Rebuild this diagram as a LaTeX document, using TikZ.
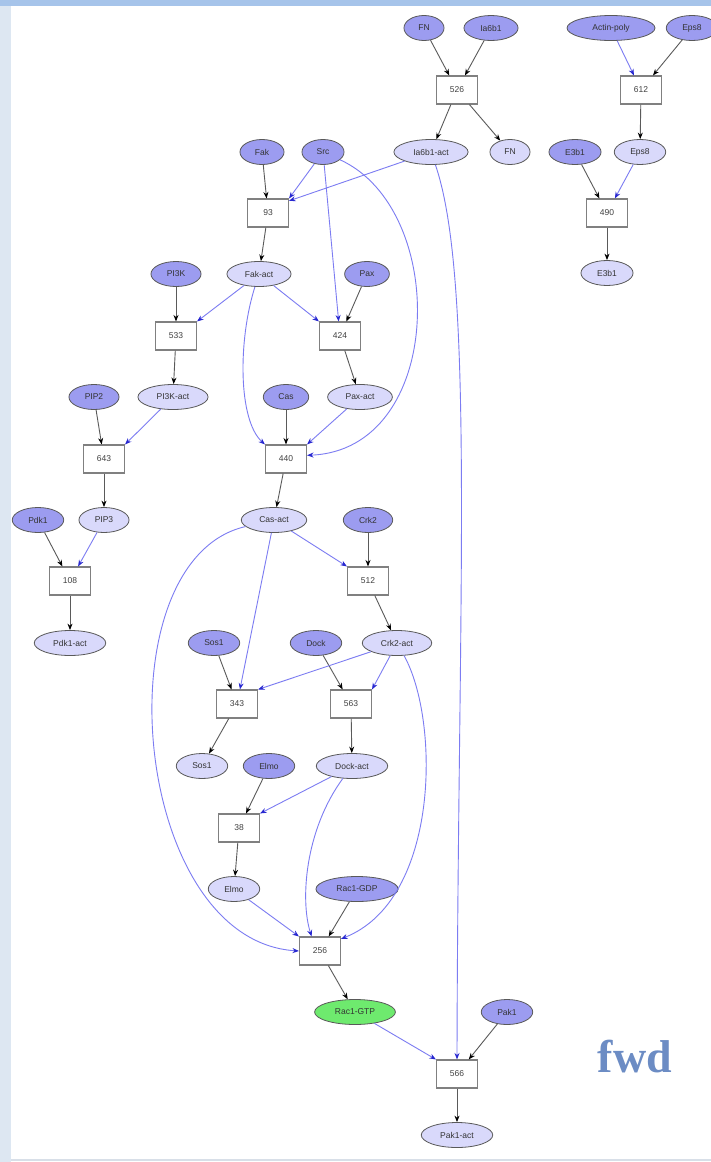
\documentclass[tikz,border=0pt]{standalone}
\usepackage{fontspec}
\setmainfont{Liberation Sans}
\newfontfamily\fwdfont{Liberation Serif}
\usetikzlibrary{shapes.geometric,arrows.meta}

\definecolor{reactantcol}{HTML}{9C9CF0}
\definecolor{productcol}{HTML}{D9D9FB}
\definecolor{gtpcol}{HTML}{6EEA6E}
\definecolor{edgegray}{HTML}{5A5A5A}
\definecolor{modline}{HTML}{7C7CF2}
\definecolor{modtip}{HTML}{2828D0}
\definecolor{fwdcol}{HTML}{6C8CC4}
\definecolor{topband}{HTML}{A6C4EA}
\definecolor{sidestrip}{HTML}{DDE7F2}
\definecolor{bottomline}{HTML}{D8DFE8}

\begin{document}
\begin{tikzpicture}[x=1pt, y=-1pt, font=\fontsize{8.5}{10}\selectfont,
    base/.style={ellipse, draw=black!65, line width=0.8pt, text=black!80,
        inner xsep=8.5pt, inner ysep=1pt, minimum height=25pt, minimum width=40pt},
    reactant/.style={base, fill=reactantcol},
    product/.style={base, fill=productcol},
    reaction/.style={rectangle, draw=black!50, line width=1.1pt, fill=white,
        minimum width=41pt, minimum height=28pt, text=black!75},
    consume/.style={draw=edgegray, line width=0.9pt, -{Stealth[length=6.5pt,width=5pt,black]}},
    modify/.style={draw=modline, line width=0.9pt, -{Stealth[length=6.5pt,width=5pt,modtip]}}]

    % Page background with the slide border
    \useasboundingbox (0,0) rectangle (711,1162);
    \fill[white] (0,0) rectangle (711,1162);
    \fill[sidestrip] (0,0) rectangle (11,1162);
    \fill[topband] (0,0) rectangle (711,6);
    \draw[bottomline, line width=1.5pt] (11,1160) -- (711,1160);

    % Integrin and Eps8 reactions
    \node[reactant] (fn) at (424,28) {FN};
    \node[reactant] (ia6b1) at (491,28) {Ia6b1};
    \node[reaction] (r526) at (457,90) {526};
    \node[product] (ia6b1act) at (431,152) {Ia6b1-act};
    \node[product] (fnout) at (510,152) {FN};
    \node[reactant, minimum width=88pt] (actinpoly) at (611,28) {Actin-poly};
    \node[reactant] (eps8) at (692,28) {Eps8};
    \node[reaction] (r612) at (641,90) {612};
    \node[reactant] (e3b1) at (575,152) {E3b1};
    \node[product] (eps8act) at (640,152) {Eps8};
    \node[reaction] (r490) at (607,213) {490};
    \node[product] (e3b1out) at (607,273) {E3b1};

    % Fak, Src and the PI3K branch
    \node[reactant] (fak) at (262,152) {Fak};
    \node[reactant] (src) at (323,152) {Src};
    \node[reaction] (r93) at (268,213) {93};
    \node[product] (fakact) at (259,274) {Fak-act};
    \node[reactant] (pi3k) at (176,274) {PI3K};
    \node[reactant] (pax) at (367,274) {Pax};
    \node[reaction] (r533) at (176,336) {533};
    \node[reaction] (r424) at (340,336) {424};
    \node[product] (pi3kact) at (173,397) {PI3K-act};
    \node[product] (paxact) at (360,397) {Pax-act};
    \node[reactant] (pip2) at (94,397) {PIP2};
    \node[reactant] (cas) at (286,397) {Cas};
    \node[reaction] (r643) at (104,459) {643};
    \node[reaction] (r440) at (286,459) {440};
    \node[reactant] (pdk1) at (38,520) {Pdk1};
    \node[product] (pip3) at (104,520) {PIP3};
    \node[product] (casact) at (274,520) {Cas-act};
    \node[reactant] (crk2) at (368,520) {Crk2};
    \node[reaction] (r108) at (70,581) {108};
    \node[reaction] (r512) at (368,581) {512};
    \node[product] (pdk1act) at (70,643) {Pdk1-act};

    % Crk2, Dock, Elmo down to Rac1 and Pak1
    \node[reactant] (sos1) at (214,643) {Sos1};
    \node[reactant] (dock) at (316,643) {Dock};
    \node[product] (crk2act) at (397,643) {Crk2-act};
    \node[reaction] (r343) at (237,704) {343};
    \node[reaction] (r563) at (351,704) {563};
    \node[product] (sos1out) at (202,766) {Sos1};
    \node[reactant] (elmo) at (269,766) {Elmo};
    \node[product] (dockact) at (352,766) {Dock-act};
    \node[reaction] (r38) at (239,828) {38};
    \node[product] (elmoout) at (234,889) {Elmo};
    \node[reactant] (racgdp) at (357,889) {Rac1-GDP};
    \node[reaction] (r256) at (320,951) {256};
    \node[base, fill=gtpcol] (racgtp) at (355,1012) {Rac1-GTP};
    \node[reactant] (pak1) at (507,1012) {Pak1};
    \node[reaction] (r566) at (457,1074) {566};
    \node[product] (pak1act) at (457,1135) {Pak1-act};

    \node[font=\fwdfont\bfseries\fontsize{46}{50}\selectfont, text=fwdcol, anchor=base] (fwd) at (635,1072) {fwd};

    % Consumed species and products
    \foreach \a/\b in {fn/r526, ia6b1/r526, r526/ia6b1act, r526/fnout,
        eps8/r612, r612/eps8act, e3b1/r490, r490/e3b1out,
        fak/r93, r93/fakact, pi3k/r533, r533/pi3kact, pax/r424, r424/paxact,
        pip2/r643, r643/pip3, cas/r440, r440/casact, pdk1/r108, r108/pdk1act,
        crk2/r512, r512/crk2act, sos1/r343, r343/sos1out, dock/r563, r563/dockact,
        elmo/r38, r38/elmoout, racgdp/r256, r256/racgtp, pak1/r566, r566/pak1act}
        \draw[consume] (\a) -- (\b);

    % Modifiers (straight)
    \foreach \a/\b in {actinpoly/r612, eps8act/r490, src/r93.north east,
        ia6b1act/r93.30, src/r424, fakact/r533.north east, fakact/r424.north west,
        pi3kact/r643.north east, paxact/r440.north east, pip3/r108,
        casact/r512.north west, casact/r343, crk2act/r343.north east,
        crk2act/r563.north east, dockact/r38.north east,
        elmoout/r256.north west, racgtp/r566.north west}
        \draw[modify] (\a) -- (\b);

    % Modifiers (long bends)
    \draw[modify] (src) .. controls (450,210) and (445,450) .. (r440.10);
    \draw[modify] (ia6b1act) .. controls (475,280) and (458,600) .. (r566.north);
    \draw[modify] (fakact) .. controls (238,340) and (238,420) .. (r440.north west);
    \draw[modify] (casact) .. controls (100,560) and (130,940) .. (r256.west);
    \draw[modify] (crk2act) .. controls (440,720) and (440,900) .. (r256.30);
    \draw[modify] (dockact) .. controls (305,830) and (300,900) .. (r256.120);
\end{tikzpicture}
\end{document}
